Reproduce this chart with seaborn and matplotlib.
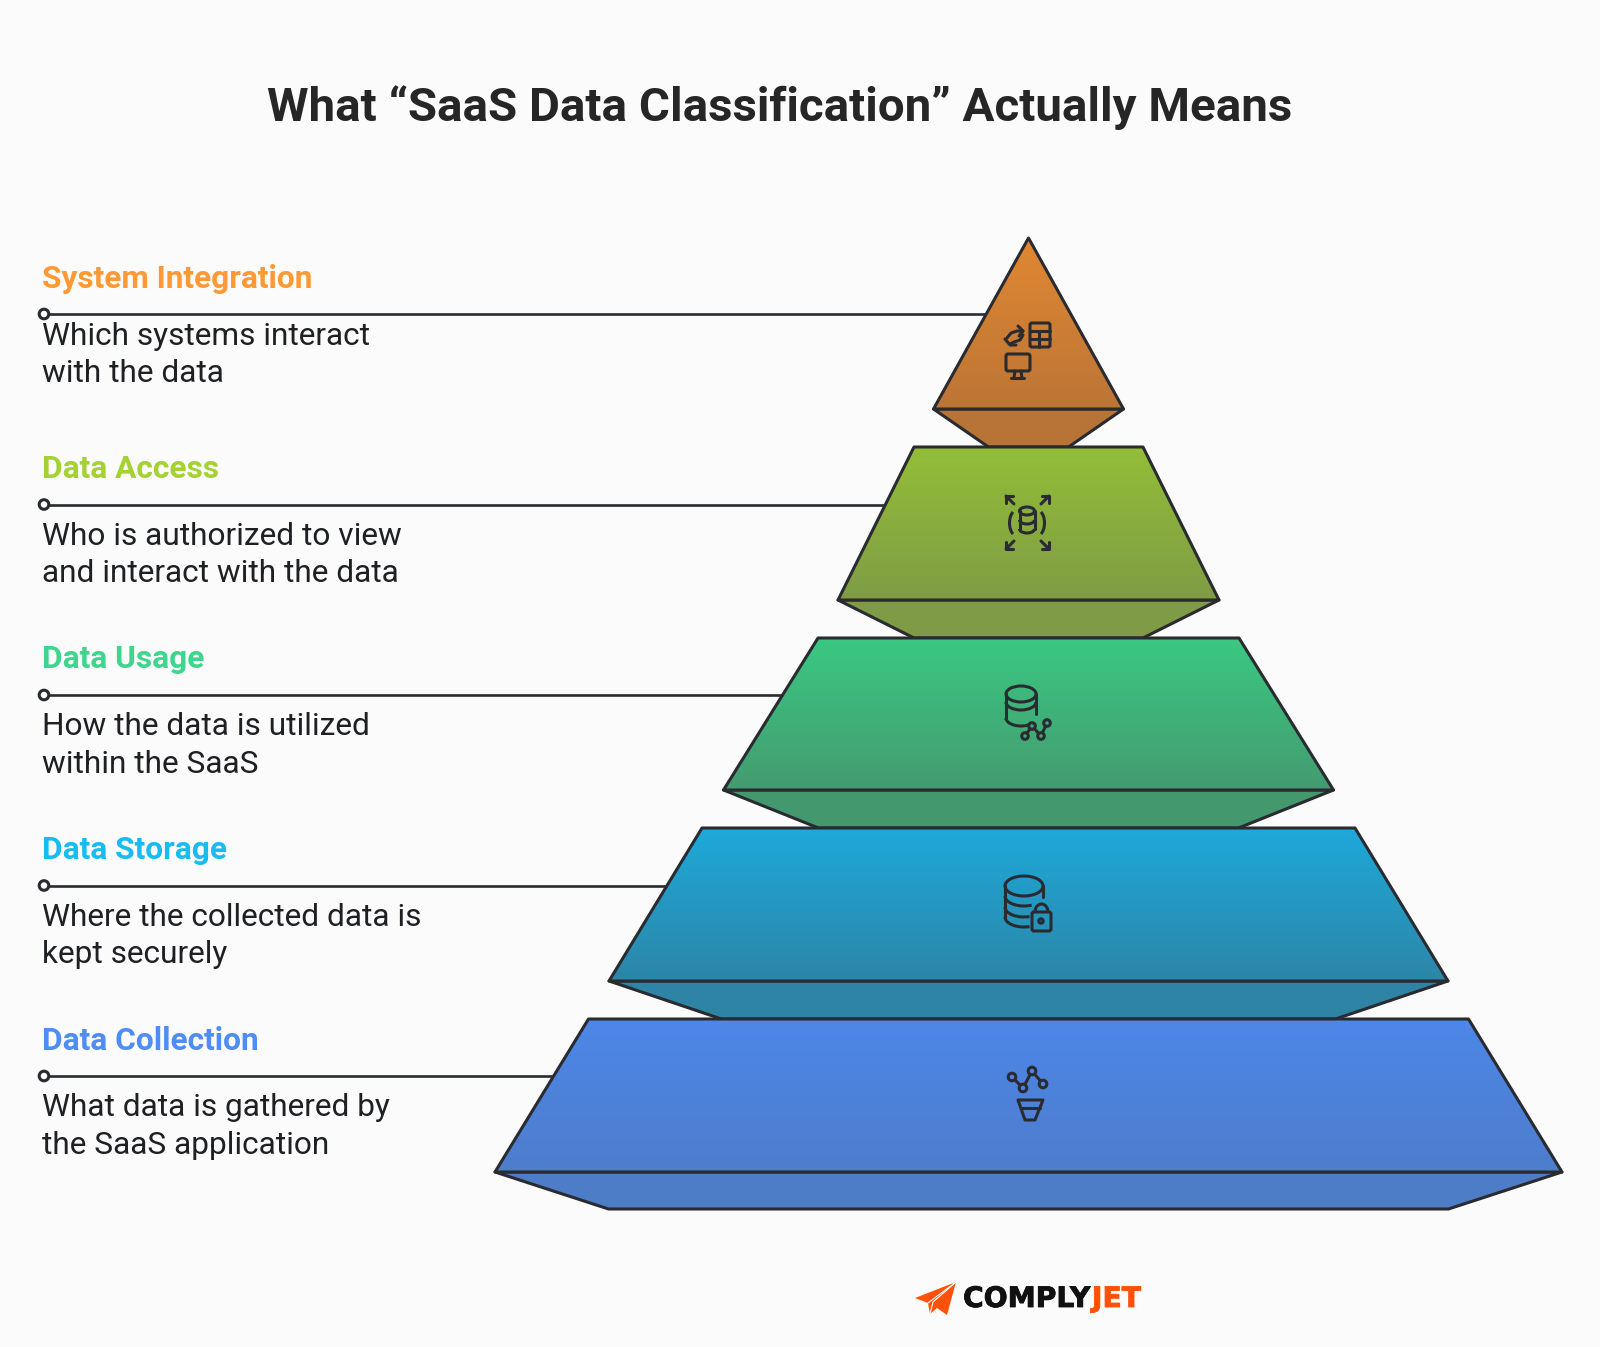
import numpy as np
import matplotlib
matplotlib.use("Agg")
import matplotlib.pyplot as plt
import matplotlib.patheffects as pe
import seaborn as sns
from matplotlib.patches import Polygon, Circle, Ellipse, Arc, FancyBboxPatch

title = "What “SaaS Data Classification” Actually Means"
tiers = ["System Integration", "Data Access", "Data Usage", "Data Storage", "Data Collection"]
descriptions = [
    "Which systems interact\nwith the data",
    "Who is authorized to view\nand interact with the data",
    "How the data is utilized\nwithin the SaaS",
    "Where the collected data is\nkept securely",
    "What data is gathered by\nthe SaaS application",
]
# widths of each slice: top edge, widest edge, bottom of the under-face
top_width = [0, 229, 421, 653, 880]
base_width = [190, 381, 610, 839, 1067]
foot_width = [80, 229, 420, 614, 840]

label_colors = ["#FF9933", "#A4D233", "#3DD68C", "#17BDF2", "#4D8DF5"]
face_top = ["#E08832", "#93BE37", "#3AC882", "#1EA9DA", "#4D87E8"]
face_bottom = ["#BC7536", "#7F9C45", "#449B70", "#2C86A7", "#4E7DCC"]
under_colors = ["#B87436", "#7F9B45", "#44986E", "#2E84A4", "#4E7DC8"]

BG = "#FBFBFB"
INK = "#2A2B30"
CX = 1028.5

sns.set_theme(style="white")
plt.rcParams["font.family"] = ["Roboto", "DejaVu Sans"]

fig = plt.figure(figsize=(16, 13.47), dpi=100, facecolor=BG)
ax = fig.add_axes([0, 0, 1, 1])
ax.set_facecolor(BG)
ax.axis("off")

# rows of the pyramid, top to bottom
row_top = [238, 447, 638, 828, 1019]
row_base = [409, 600, 790, 981, 1172]
row_foot = [447, 638, 828, 1019, 1209]
line_y = [314, 504.5, 695, 885.5, 1076]
head_y = [278.5, 468.5, 658.5, 850, 1040.5]
desc_y = [355, 555, 745.5, 936, 1126.5]


def gradient_face(pts, c1, c2, y1, y2):
    poly = Polygon(pts, closed=True, facecolor="none", edgecolor=INK, lw=2.2,
                   joinstyle="round", zorder=3)
    ax.add_patch(poly)
    cmap = sns.blend_palette([c1, c2], 64, as_cmap=True)
    im = ax.imshow(np.linspace(0, 1, 256).reshape(-1, 1), cmap=cmap, aspect="auto",
                   extent=(CX - 560, CX + 560, y2, y1), zorder=2)
    im.set_clip_path(Polygon(pts, closed=True, transform=ax.transData))


for i, name in enumerate(tiers):
    # leader line runs under the pyramid
    ax.plot([43, CX], [line_y[i], line_y[i]], color=INK, lw=1.9, zorder=1)
    ax.add_patch(Circle((44, line_y[i]), 4.8, facecolor=BG, edgecolor=INK, lw=2.2, zorder=4))

    ax.text(41.5, head_y[i], name, color=label_colors[i], fontsize=22.75, fontweight="bold",
            va="center", ha="left")
    ax.text(41.5, desc_y[i], descriptions[i], color="#1F2023", fontsize=22.8, va="center", ha="left",
            linespacing=1.39)

    foot = [(CX - base_width[i] / 2, row_base[i]), (CX + base_width[i] / 2, row_base[i]),
            (CX + foot_width[i] / 2, row_foot[i]), (CX - foot_width[i] / 2, row_foot[i])]
    ax.add_patch(Polygon(foot, closed=True, facecolor=under_colors[i], edgecolor=INK, lw=2.2,
                         joinstyle="round", zorder=2))
    face = [(CX - top_width[i] / 2, row_top[i]), (CX + top_width[i] / 2, row_top[i]),
            (CX + base_width[i] / 2, row_base[i]), (CX - base_width[i] / 2, row_base[i])]
    gradient_face(face, face_top[i], face_bottom[i], row_top[i], row_base[i])

ax.set_xlim(0, 1600)
ax.set_ylim(1347, 0)

ax.text(780, 108, title, color="#262626", fontsize=34.2, fontweight="bold", ha="center", va="center")

# icons, drawn on top of the faces
LW = 2.2
kw = dict(color=INK, lw=LW, solid_capstyle="round", solid_joinstyle="round", zorder=6)
pk = dict(facecolor="none", edgecolor=INK, lw=LW, zorder=6)


def line(xs, ys):
    ax.plot(xs, ys, **kw)


# tier 1: arrows, table, monitor
ax.add_patch(FancyBboxPatch((1030, 323), 20, 24, boxstyle="round,pad=0,rounding_size=2", **pk))
line([1030, 1050], [331, 331])
line([1030, 1050], [339, 339])
line([1039, 1039], [331, 347])
ax.add_patch(FancyBboxPatch((1006, 354), 24, 17, boxstyle="round,pad=0,rounding_size=2", **pk))
line([1015, 1014], [371, 378])
line([1021, 1022], [371, 378])
line([1011, 1024], [378, 378])
line([1007, 1011, 1017, 1023], [338, 333, 331, 331])
line([1018, 1023, 1019], [326, 331, 336])
line([1023, 1020, 1014, 1010], [335, 340, 342, 344])
line([1005, 1010, 1016], [339, 345, 345])

# tier 2: database with corner arrows
ax.add_patch(Ellipse((1027, 511), 15, 8, **pk))
line([1019.5, 1019.5], [511, 529])
line([1034.5, 1034.5], [511, 529])
ax.add_patch(Arc((1027, 520), 15, 8, theta1=0, theta2=180, **pk))
ax.add_patch(Arc((1027, 529), 15, 8, theta1=0, theta2=180, **pk))
ax.add_patch(Arc((1017, 523), 15, 26, theta1=110, theta2=250, **pk))
ax.add_patch(Arc((1037, 523), 15, 26, theta1=-70, theta2=70, **pk))
for (ax0, ay0, dx, dy) in [(1006, 496, 1, 1), (1049, 496, -1, 1), (1006, 549, 1, -1), (1049, 549, -1, -1)]:
    line([ax0, ax0 + 8 * dx], [ay0, ay0 + 8 * dy])
    line([ax0, ax0, ax0 + 7 * dx], [ay0 + 7 * dy, ay0, ay0])

# tier 3: database with graph
ax.add_patch(Ellipse((1021, 694), 30, 16, **pk))
line([1006, 1006], [694, 718])
line([1036, 1036], [694, 714])
ax.add_patch(Arc((1021, 702), 30, 16, theta1=0, theta2=180, **pk))
ax.add_patch(Arc((1021, 718), 30, 16, theta1=30, theta2=180, **pk))
net3 = [(1025, 736), (1032, 726), (1041, 736), (1047, 723)]
line([p[0] for p in net3], [p[1] for p in net3])
for p in net3:
    ax.add_patch(Circle(p, 3.3, facecolor="#42A878", edgecolor=INK, lw=LW, zorder=7))

# tier 4: database with padlock
ax.add_patch(Ellipse((1024, 886), 38, 20, **pk))
line([1005, 1005], [886, 917])
line([1043, 1043], [886, 897])
ax.add_patch(Arc((1024, 896), 38, 20, theta1=50, theta2=180, **pk))
ax.add_patch(Arc((1024, 907), 38, 20, theta1=60, theta2=180, **pk))
ax.add_patch(Arc((1024, 917), 38, 20, theta1=60, theta2=180, **pk))
ax.add_patch(FancyBboxPatch((1032, 912), 19, 19, boxstyle="round,pad=0,rounding_size=2", **pk))
ax.add_patch(Arc((1041.5, 912), 13, 16, theta1=180, theta2=360, **pk))
ax.add_patch(Circle((1041, 921), 2.2, **pk))

# tier 5: graph above a funnel
net5 = [(1012, 1077), (1023, 1088), (1032, 1071), (1043, 1084)]
line([p[0] for p in net5], [p[1] for p in net5])
for p in net5:
    ax.add_patch(Circle(p, 3.8, facecolor="#4E84DE", edgecolor=INK, lw=LW, zorder=7))
ax.add_patch(Polygon([(1018, 1100), (1043, 1100), (1035, 1120), (1025, 1120)], closed=True,
                     joinstyle="round", **pk))
line([1021.5, 1039.5], [1108, 1108])

# logo
plane = [(956, 1282), (915, 1298), (928, 1303), (930, 1314), (937, 1308), (947, 1315)]
ax.add_patch(Polygon(plane, closed=True, facecolor="#FF5208", edgecolor="none", zorder=5))
ax.plot([956, 928], [1282, 1303], color=BG, lw=0.8, zorder=6)
ax.plot([956, 933, 930], [1282, 1302, 1314], color=BG, lw=0.8, zorder=6)
logo_fx = [pe.withStroke(linewidth=0.6, foreground="#111111")]
ax.text(963, 1307, "COMPLY", color="#111111", fontsize=20.3, fontweight="bold",
        family="DejaVu Sans", va="baseline", ha="left", path_effects=logo_fx)
ax.text(1092, 1307, "JET", color="#FF5208", fontsize=20.3, fontweight="bold",
        family="DejaVu Sans", va="baseline", ha="left",
        path_effects=[pe.withStroke(linewidth=0.6, foreground="#FF5208")])

fig.savefig("out.png", dpi=100, facecolor=BG)
